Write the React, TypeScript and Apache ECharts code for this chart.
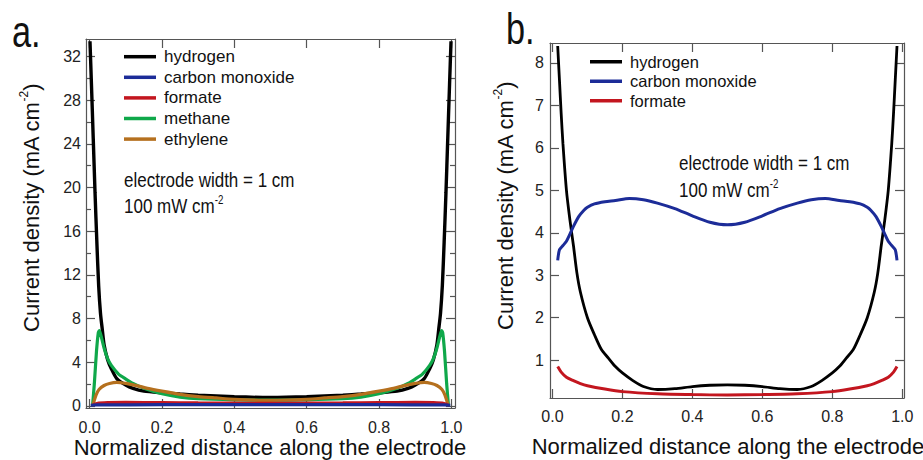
import React, { useEffect, useRef } from "react";
import * as echarts from "echarts";

// ---------- Panel a data ----------
const aHydrogenX = [0.001, 0.005, 0.01, 0.015, 0.02, 0.025, 0.03, 0.035, 0.04, 0.05, 0.06, 0.075, 0.1, 0.12, 0.15, 0.2, 0.25, 0.3, 0.4, 0.5, 0.6, 0.7, 0.75, 0.8, 0.85, 0.88, 0.9, 0.925, 0.94, 0.95, 0.96, 0.965, 0.97, 0.975, 0.98, 0.985, 0.99, 0.995, 0.999];
const aHydrogenY = [33.4, 29.5, 24.5, 19.5, 15, 11, 8.5, 7.0, 5.6, 4.2, 3.4, 2.5, 1.9, 1.6, 1.35, 1.2, 1.08, 0.98, 0.83, 0.76, 0.83, 0.98, 1.08, 1.2, 1.35, 1.6, 1.9, 2.5, 3.4, 4.2, 5.6, 7.0, 8.5, 11, 15, 19.5, 24.5, 29.5, 33.4];

const aCOX = [0.003, 0.02, 0.2, 0.5, 0.8, 0.98, 0.997];
const aCOY = [0.05, 0.08, 0.1, 0.1, 0.1, 0.08, 0.05];

const aFormateX = [0.008, 0.02, 0.05, 0.1, 0.2, 0.3, 0.5, 0.7, 0.8, 0.9, 0.95, 0.98, 0.992];
const aFormateY = [0.05, 0.22, 0.3, 0.32, 0.3, 0.27, 0.24, 0.27, 0.3, 0.32, 0.3, 0.22, 0.05];

const aMethaneX = [0.008, 0.013, 0.019, 0.024, 0.027, 0.031, 0.04, 0.05, 0.06, 0.08, 0.1, 0.12, 0.15, 0.2, 0.25, 0.3, 0.4, 0.5, 0.6, 0.7, 0.75, 0.8, 0.85, 0.88, 0.9, 0.92, 0.94, 0.95, 0.96, 0.969, 0.973, 0.976, 0.981, 0.987, 0.992];
const aMethaneY = [0, 2, 5, 6.7, 6.9, 6.5, 5.3, 4.3, 3.7, 2.9, 2.45, 2.05, 1.6, 1.1, 0.8, 0.65, 0.55, 0.52, 0.55, 0.65, 0.8, 1.1, 1.6, 2.05, 2.45, 2.9, 3.7, 4.3, 5.3, 6.5, 6.9, 6.7, 5, 2, 0];

const aEthyleneX = [0.008, 0.012, 0.018, 0.026, 0.04, 0.055, 0.075, 0.1, 0.13, 0.16, 0.2, 0.25, 0.3, 0.35, 0.4, 0.5, 0.6, 0.65, 0.7, 0.75, 0.8, 0.84, 0.87, 0.9, 0.925, 0.945, 0.96, 0.974, 0.982, 0.988, 0.992];
const aEthyleneY = [0, 0.4, 1.0, 1.5, 1.86, 2.05, 2.15, 2.05, 1.85, 1.6, 1.34, 1.05, 0.85, 0.72, 0.6, 0.5, 0.6, 0.72, 0.85, 1.05, 1.34, 1.6, 1.85, 2.05, 2.15, 2.05, 1.86, 1.5, 1.0, 0.4, 0];

// ---------- Panel b data ----------
const bHydrogenX = [0.015, 0.02, 0.025, 0.03, 0.04, 0.05, 0.06, 0.07, 0.08, 0.1, 0.12, 0.14, 0.16, 0.18, 0.2, 0.23, 0.26, 0.3, 0.35, 0.4, 0.45, 0.5, 0.55, 0.6, 0.65, 0.7, 0.74, 0.77, 0.8, 0.82, 0.84, 0.86, 0.88, 0.9, 0.92, 0.93, 0.94, 0.95, 0.96, 0.97, 0.975, 0.98, 0.985];
const bHydrogenY = [8.4, 7.6, 6.8, 6.1, 5.0, 4.3, 3.7, 3.05, 2.6, 2.0, 1.6, 1.25, 1.05, 0.85, 0.7, 0.52, 0.38, 0.31, 0.33, 0.38, 0.41, 0.42, 0.41, 0.38, 0.33, 0.31, 0.38, 0.52, 0.7, 0.85, 1.05, 1.25, 1.6, 2.0, 2.6, 3.05, 3.7, 4.3, 5.0, 6.1, 6.8, 7.6, 8.4];

const bCOX = [0.015, 0.02, 0.03, 0.04, 0.05, 0.06, 0.075, 0.09, 0.1, 0.12, 0.15, 0.18, 0.22, 0.26, 0.3, 0.35, 0.4, 0.45, 0.5, 0.55, 0.6, 0.65, 0.7, 0.74, 0.78, 0.82, 0.85, 0.88, 0.9, 0.91, 0.925, 0.94, 0.95, 0.96, 0.97, 0.98, 0.985];
const bCOY = [3.35, 3.6, 3.7, 3.8, 3.97, 4.15, 4.38, 4.53, 4.6, 4.68, 4.73, 4.76, 4.81, 4.78, 4.7, 4.57, 4.4, 4.25, 4.19, 4.25, 4.4, 4.57, 4.7, 4.78, 4.81, 4.76, 4.73, 4.68, 4.6, 4.53, 4.38, 4.15, 3.97, 3.8, 3.7, 3.6, 3.35];

const bFormateX = [0.015, 0.025, 0.04, 0.06, 0.08, 0.1, 0.15, 0.2, 0.3, 0.4, 0.5, 0.6, 0.7, 0.8, 0.85, 0.9, 0.92, 0.94, 0.96, 0.975, 0.985];
const bFormateY = [0.85, 0.72, 0.6, 0.52, 0.45, 0.4, 0.32, 0.26, 0.21, 0.19, 0.18, 0.19, 0.21, 0.26, 0.32, 0.4, 0.45, 0.52, 0.6, 0.72, 0.85];

// ---------- Ticks / labels ----------
const xTicks = [0, 0.2, 0.4, 0.6, 0.8, 1.0];
const xTickLabels = ["0.0", "0.2", "0.4", "0.6", "0.8", "1.0"];
const aYTicks = [0, 4, 8, 12, 16, 20, 24, 28, 32];
const aYMinorTicks = [2, 6, 10, 14, 18, 22, 26, 30];
const bYTicks = [1, 2, 3, 4, 5, 6, 7, 8];

const aNames = ["hydrogen", "carbon monoxide", "formate", "methane", "ethylene"];
const bNames = ["hydrogen", "carbon monoxide", "formate"];

const COLORS: Record<string, string> = {
  hydrogen: "#000000",
  "carbon monoxide": "#1c2c98",
  formate: "#c3161f",
  methane: "#0fa84a",
  ethylene: "#b5701e",
};

const SANS = "'Liberation Sans', Arial, sans-serif";
const FRAME = "#555";

function pairs(xs: number[], ys: number[]) {
  return xs.map((x, i) => [x, ys[i]]);
}

function xAxis(grid: number, pos: "top" | "bottom", min: number, max: number, showLabel: boolean, margin: number) {
  return {
    type: "value",
    gridIndex: grid,
    position: pos,
    min,
    max,
    axisLine: { show: true, onZero: false, lineStyle: { color: FRAME, width: 1.2 } },
    axisTick: { show: true, inside: true, length: 9, customValues: xTicks, lineStyle: { color: FRAME, width: 1.2 } },
    axisLabel: {
      show: showLabel,
      customValues: xTicks,
      margin,
      fontSize: 16,
      fontFamily: SANS,
      color: "#222",
      formatter: (v: number) => {
        const i = xTicks.findIndex((t) => Math.abs(t - v) < 1e-6);
        return i >= 0 ? xTickLabels[i] : "";
      },
    },
    splitLine: { show: false },
  };
}

function yAxis(
  grid: number,
  pos: "left" | "right",
  min: number,
  max: number,
  ticks: number[],
  len: number,
  showLine: boolean,
  showLabel: boolean,
  margin: number
) {
  return {
    type: "value",
    gridIndex: grid,
    position: pos,
    min,
    max,
    axisLine: { show: showLine, onZero: false, lineStyle: { color: FRAME, width: 1.2 } },
    axisTick: { show: true, inside: true, length: len, customValues: ticks, lineStyle: { color: FRAME, width: 1.2 } },
    axisLabel: {
      show: showLabel,
      customValues: ticks,
      margin,
      fontSize: 16,
      fontFamily: SANS,
      color: "#222",
      formatter: (v: number) => String(Math.round(v)),
    },
    splitLine: { show: false },
  };
}

function line(name: string, xs: number[], ys: number[], xi: number, yi: number, width: number, z: number) {
  const c = COLORS[name];
  return {
    type: "line",
    name,
    xAxisIndex: xi,
    yAxisIndex: yi,
    data: pairs(xs, ys),
    symbol: "none",
    showSymbol: false,
    smooth: 0.25,
    itemStyle: { color: c },
    lineStyle: { color: c, width },
    z,
    silent: true,
  };
}

const titleRich = {
  n: { fontSize: 22, fontFamily: SANS, fill: "#111", lineHeight: 26 },
  s: { fontSize: 12, fontFamily: SANS, fill: "#111", verticalAlign: "top", lineHeight: 14 },
};
const noteRich = {
  n: { fontSize: 21, fontFamily: SANS, fill: "#111", lineHeight: 24 },
  s: { fontSize: 12, fontFamily: SANS, fill: "#111", verticalAlign: "top", lineHeight: 13 },
};

const NOTE_SCALE = 0.81;

export default function App() {
  const ref = useRef<HTMLDivElement>(null);
  useEffect(() => {
    const chart = echarts.init(ref.current!, null, { renderer: "svg" });
    const option: any = {
      animation: false,
      backgroundColor: "#ffffff",
      grid: [
        { left: 86, top: 39, width: 369, height: 369 },
        { left: 550, top: 43, width: 354, height: 355 },
      ],
      xAxis: [
        xAxis(0, "bottom", -0.01, 1.01, true, 11),
        xAxis(0, "top", -0.01, 1.01, false, 8),
        xAxis(1, "bottom", -0.007, 1.005, true, 10),
        xAxis(1, "top", -0.007, 1.005, false, 8),
      ],
      yAxis: [
        yAxis(0, "left", -0.2, 33.6, aYTicks, 9, true, true, 5),
        yAxis(0, "right", -0.2, 33.6, aYTicks, 9, true, false, 5),
        yAxis(0, "left", -0.2, 33.6, aYMinorTicks, 5, false, false, 5),
        yAxis(0, "right", -0.2, 33.6, aYMinorTicks, 5, false, false, 5),
        yAxis(1, "left", 0.11, 8.47, bYTicks, 9, true, true, 6),
        yAxis(1, "right", 0.11, 8.47, bYTicks, 9, true, false, 6),
      ],
      legend: [
        {
          left: 124,
          top: 46.4,
          orient: "vertical",
          padding: 0,
          itemGap: 0,
          itemWidth: 32,
          itemHeight: 3.5,
          icon: "rect",
          selectedMode: false,
          data: aNames,
          textStyle: { fontSize: 17, lineHeight: 20.6, fontFamily: SANS, color: "#111", padding: [0, 0, 0, 3] },
        },
        {
          left: 590,
          top: 52,
          orient: "vertical",
          padding: 0,
          itemGap: 0,
          itemWidth: 32,
          itemHeight: 3.5,
          icon: "rect",
          selectedMode: false,
          data: bNames,
          textStyle: { fontSize: 16.5, lineHeight: 19.5, fontFamily: SANS, color: "#111", padding: [0, 0, 0, 3] },
        },
      ],
      series: [
        line("hydrogen", aHydrogenX, aHydrogenY, 0, 0, 3.4, 2),
        line("methane", aMethaneX, aMethaneY, 0, 0, 3.2, 3),
        line("ethylene", aEthyleneX, aEthyleneY, 0, 0, 3.2, 4),
        line("formate", aFormateX, aFormateY, 0, 0, 3, 5),
        line("carbon monoxide", aCOX, aCOY, 0, 0, 3.2, 6),
        line("hydrogen", bHydrogenX, bHydrogenY, 2, 4, 2.8, 2),
        line("carbon monoxide", bCOX, bCOY, 2, 4, 3, 3),
        line("formate", bFormateX, bFormateY, 2, 4, 3, 4),
      ],
      graphic: [
        { type: "text", x: 12, y: 31, scaleX: 0.78, style: { text: "a.", fontSize: 44, fontFamily: SANS, fill: "#111", align: "left", verticalAlign: "middle" } },
        { type: "text", x: 506, y: 28, scaleX: 0.78, style: { text: "b.", fontSize: 44, fontFamily: SANS, fill: "#111", align: "left", verticalAlign: "middle" } },
        {
          type: "text", x: 31, y: 208, rotation: Math.PI / 2,
          style: { text: "{n|Current density (mA cm}{s|-2}{n|)}", rich: titleRich, align: "center", verticalAlign: "middle" },
        },
        {
          type: "text", x: 505, y: 206, rotation: Math.PI / 2,
          style: { text: "{n|Current density (mA cm}{s|-2}{n|)}", rich: titleRich, align: "center", verticalAlign: "middle" },
        },
        {
          type: "text", x: 270, y: 447,
          style: { text: "Normalized distance along the electrode", fontSize: 22, fontFamily: SANS, fill: "#111", align: "center", verticalAlign: "middle" },
        },
        {
          type: "text", x: 728, y: 446,
          style: { text: "Normalized distance along the electrode", fontSize: 22, fontFamily: SANS, fill: "#111", align: "center", verticalAlign: "middle" },
        },
        { type: "text", x: 124, y: 180, scaleX: NOTE_SCALE, style: { text: "electrode width = 1 cm", fontSize: 21, fontFamily: SANS, fill: "#111", align: "left", verticalAlign: "middle" } },
        { type: "text", x: 124, y: 206, scaleX: NOTE_SCALE, style: { text: "{n|100 mW cm}{s|-2}", rich: noteRich, align: "left", verticalAlign: "middle" } },
        { type: "text", x: 679, y: 163, scaleX: NOTE_SCALE, style: { text: "electrode width = 1 cm", fontSize: 21, fontFamily: SANS, fill: "#111", align: "left", verticalAlign: "middle" } },
        { type: "text", x: 679, y: 190, scaleX: NOTE_SCALE, style: { text: "{n|100 mW cm}{s|-2}", rich: noteRich, align: "left", verticalAlign: "middle" } },
      ],
    };
    chart.setOption(option);
    return () => chart.dispose();
  }, []);
  return <div ref={ref} style={{ position: "absolute", left: 0, top: 0, width: 923, height: 460 }} />;
}
